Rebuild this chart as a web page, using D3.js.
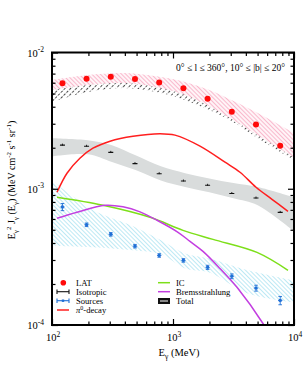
<!DOCTYPE html>
<html><head><meta charset="utf-8">
<script src="https://cdn.jsdelivr.net/npm/d3@7"></script>
<style>
html,body{margin:0;padding:0;background:#fff;}
svg{display:block;font-family:"Liberation Serif","DejaVu Serif",serif;}
</style></head>
<body><svg id="c" width="305" height="365"></svg>
<script>
// ---------------- data ----------------
const binE = [122, 193, 306, 485, 769, 1219, 1932, 3062, 4853, 7691];
const latFlux = [5.94e-3, 6.42e-3, 6.64e-3, 6.38e-3, 6.02e-3, 5.46e-3, 4.57e-3, 3.67e-3, 2.96e-3, 2.07e-3];
const isoFlux = [2.09e-3, 2.05e-3, 1.85e-3, 1.53e-3, 1.29e-3, 1.14e-3, 1.06e-3, 9.23e-4, 8.55e-4, 6.71e-4];
const srcFlux = [7.35e-4, 5.44e-4, 4.63e-4, 3.79e-4, 3.24e-4, 2.98e-4, 2.65e-4, 2.28e-4, 1.865e-4, 1.514e-4];
const srcErr  = [0.06, 0.03, 0.03, 0.03, 0.03, 0.03, 0.035, 0.04, 0.05, 0.07];

const bandE = [100, 198, 396, 794, 1259, 1995, 3162, 5012, 10000];
const latLo = [5.30e-3, 5.77e-3, 5.97e-3, 5.48e-3, 4.87e-3, 4.04e-3, 3.19e-3, 2.47e-3, 1.70e-3];
const latHi = [6.28e-3, 6.83e-3, 7.07e-3, 6.61e-3, 6.07e-3, 5.30e-3, 4.40e-3, 3.59e-3, 2.56e-3];
const totLo = [4.33e-3, 5.12e-3, 5.48e-3, 5.04e-3, 4.47e-3, 3.78e-3, 3.08e-3, 2.35e-3, 1.62e-3];
const totHi = [5.97e-3, 6.38e-3, 6.49e-3, 6.17e-3, 5.67e-3, 4.87e-3, 4.11e-3, 3.35e-3, 2.39e-3];

const isoBandE  = [100, 198, 313, 490, 794, 1259, 1995, 3162, 5012, 10000];
const isoBandLo = [1.73e-3, 1.79e-3, 1.57e-3, 1.37e-3, 1.15e-3, 1.03e-3, 9.42e-4, 8.51e-4, 7.56e-4, 4.86e-4];
const isoBandHi = [2.35e-3, 2.27e-3, 2.09e-3, 1.76e-3, 1.46e-3, 1.30e-3, 1.19e-3, 1.10e-3, 1.03e-3, 8.65e-4];

const srcBandE  = [100, 141, 219, 468, 794, 1259, 1995, 4169, 10000];
const srcBandLo = [3.84e-4, 3.78e-4, 3.72e-4, 3.53e-4, 3.30e-4, 2.60e-4, 2.43e-4, 1.70e-4, 1.46e-4];
const srcBandHi = [1.155e-3, 9.11e-4, 6.95e-4, 5.30e-4, 4.18e-4, 3.35e-4, 3.08e-4, 2.52e-4, 2.12e-4];

const pi0E = [110, 133, 170, 218, 302, 467, 781, 1039, 1672, 2690, 3579, 4853, 6577, 8920];
const pi0F = [9.42e-4, 1.30e-3, 1.676e-3, 1.985e-3, 2.235e-3, 2.43e-3, 2.537e-3, 2.474e-3, 2.054e-3, 1.566e-3, 1.322e-3, 1.026e-3, 8.37e-4, 6.83e-4];

const icE = [110, 264, 646, 1209, 2141, 4945, 8920];
const icF = [8.66e-4, 7.56e-4, 6.17e-4, 4.95e-4, 4.25e-4, 3.41e-4, 2.52e-4];

const brE = [110, 161, 274, 386, 534, 738, 1100, 1382, 1770, 2445, 3380, 5543, 6310];
const brF = [6.07e-4, 6.72e-4, 7.56e-4, 7.37e-4, 6.77e-4, 5.87e-4, 4.79e-4, 4.11e-4, 3.47e-4, 2.60e-4, 1.89e-4, 1.026e-4, 8.4e-5];

const xMajor = [100, 1000, 10000];
const yMajor = [1e-4, 1e-3, 1e-2];
const xLabels = ["2", "3", "4"];
const yLabels = ["-4", "-3", "-2"];
const titleText = "0° ≤ l ≤ 360°, 10° ≤ |b| ≤ 20°";

// ---------------- layout ----------------
const L = 52, R = 294, T = 52.5, B = 325;
const x = d3.scaleLog().domain([100, 10000]).range([L, R]);
const y = d3.scaleLog().domain([1e-4, 1e-2]).range([B, T]);

const svg = d3.select("#c");
const defs = svg.append("defs");
defs.append("clipPath").attr("id", "clip").append("rect")
  .attr("x", L).attr("y", T).attr("width", R - L).attr("height", B - T);

function hatch(id, color, angle, bg, dash, sw, w) {
  const p = defs.append("pattern").attr("id", id).attr("patternUnits", "userSpaceOnUse")
    .attr("width", w).attr("height", w).attr("patternTransform", "rotate(" + angle + ")");
  if (bg) p.append("rect").attr("width", w).attr("height", w).attr("fill", bg);
  const ln = p.append("line").attr("x1", 0.5).attr("y1", 0).attr("x2", 0.5).attr("y2", w)
    .attr("stroke", color).attr("stroke-width", sw);
  if (dash) ln.attr("stroke-dasharray", dash);
}
hatch("hBlack", "#333", 45, null, "2.5,1.5", 0.9, 4);
hatch("hPink", "#f8b2c8", -45, "#fff4f7", null, 0.9, 3);
hatch("hCyan", "#b5e7f3", -45, null, null, 0.9, 3);

const g = svg.append("g").attr("clip-path", "url(#clip)");

function band(E, lo, hi, fill) {
  const a = d3.area().x((d, i) => x(E[i])).y0((d, i) => y(lo[i])).y1((d, i) => y(hi[i]))
    .curve(d3.curveCatmullRom);
  return g.append("path").attr("d", a(E)).attr("fill", fill);
}
function line(E, F, color) {
  const l = d3.line().x((d, i) => x(E[i])).y((d, i) => y(F[i])).curve(d3.curveCatmullRom);
  g.append("path").attr("d", l(E)).attr("fill", "none").attr("stroke", color)
    .attr("stroke-width", 1.5);
}

band(bandE, totLo, totHi, "url(#hBlack)");
band(bandE, latLo, latHi, "url(#hPink)");
band(isoBandE, isoBandLo, isoBandHi, "#d9dcdc");
band(srcBandE, srcBandLo, srcBandHi, "url(#hCyan)");

line(pi0E, pi0F, "#ff1f1f");
line(icE, icF, "#7ddf1a");
line(brE, brF, "#c33fe0");

// isotropic points
binE.forEach((e, i) => {
  const cx = x(e), cy = y(isoFlux[i]);
  g.append("line").attr("x1", cx - 2.5).attr("x2", cx + 2.5).attr("y1", cy).attr("y2", cy)
    .attr("stroke", "#111").attr("stroke-width", 1.1);
  g.append("line").attr("x1", cx).attr("x2", cx).attr("y1", cy - 1.5).attr("y2", cy + 0.5)
    .attr("stroke", "#111").attr("stroke-width", 0.9);
});
// sources points
const blue = "#1f6fd6";
binE.forEach((e, i) => {
  const cx = x(e), cy = y(srcFlux[i]);
  const y1 = y(srcFlux[i] * (1 + srcErr[i])), y2 = y(srcFlux[i] * (1 - srcErr[i]));
  g.append("line").attr("x1", cx).attr("x2", cx).attr("y1", y1).attr("y2", y2)
    .attr("stroke", blue).attr("stroke-width", 0.9);
  [y1, y2].forEach(yy => g.append("line").attr("x1", cx - 1.8).attr("x2", cx + 1.8)
    .attr("y1", yy).attr("y2", yy).attr("stroke", blue).attr("stroke-width", 0.9));
  g.append("line").attr("x1", cx - 2.2).attr("x2", cx + 2.2).attr("y1", cy).attr("y2", cy)
    .attr("stroke", blue).attr("stroke-width", 0.9);
  g.append("rect").attr("x", cx - 1.4).attr("y", cy - 1.4).attr("width", 2.8).attr("height", 2.8)
    .attr("fill", blue);
});
// LAT points
binE.forEach((e, i) => {
  g.append("circle").attr("cx", x(e)).attr("cy", y(latFlux[i])).attr("r", 3)
    .attr("fill", "#ff0a0a");
});

// ---------------- axes ----------------
function minors(lo, hi) {
  const out = [];
  for (let d = lo; d < hi; d *= 10) for (let k = 2; k <= 9; k++) out.push(d * k);
  return out;
}
const ax = svg.append("g");
function drawAxis(gen, ticks, size, tr) {
  const a = ax.append("g").attr("transform", tr)
    .call(gen.tickValues(ticks).tickSize(size).tickFormat(""));
  a.select(".domain").remove();
  a.selectAll(".tick line").attr("stroke", "#000").attr("stroke-width", 1.2);
}
const xm = minors(100, 10000), ym = minors(1e-4, 1e-2);
drawAxis(d3.axisBottom(x), xMajor, -6, `translate(0,${B})`);
drawAxis(d3.axisBottom(x), xm, -3.5, `translate(0,${B})`);
drawAxis(d3.axisTop(x), xMajor, -6, `translate(0,${T})`);
drawAxis(d3.axisTop(x), xm, -3.5, `translate(0,${T})`);
drawAxis(d3.axisLeft(y), yMajor, -6, `translate(${L},0)`);
drawAxis(d3.axisLeft(y), ym, -3.5, `translate(${L},0)`);
drawAxis(d3.axisRight(y), yMajor, -6, `translate(${R},0)`);
drawAxis(d3.axisRight(y), ym, -3.5, `translate(${R},0)`);
ax.append("rect").attr("x", L).attr("y", T).attr("width", R - L).attr("height", B - T)
  .attr("fill", "none").attr("stroke", "#000").attr("stroke-width", 2);

// tick labels
xMajor.forEach((v, i) => {
  const t = ax.append("text").attr("x", x(v) + 1).attr("y", 341).attr("text-anchor", "middle")
    .attr("font-size", 10.5);
  t.append("tspan").text("10");
  t.append("tspan").attr("dy", -4.5).attr("font-size", 7.5).text(xLabels[i]);
});
yMajor.forEach((v, i) => {
  const t = ax.append("text").attr("x", 44).attr("y", y(v) + 4).attr("text-anchor", "end")
    .attr("font-size", 10.5);
  t.append("tspan").text("10");
  t.append("tspan").attr("dy", -4.5).attr("font-size", 7.5).text(yLabels[i]);
});

// axis titles
const xt = ax.append("text").attr("x", 179).attr("y", 356).attr("text-anchor", "middle")
  .attr("font-size", 10.5);
xt.append("tspan").text("E");
xt.append("tspan").attr("dy", 2.5).attr("font-size", 7.5).text("γ");
xt.append("tspan").attr("dy", -2.5).text(" (MeV)");

const yt = ax.append("text").attr("transform", "translate(15,180) rotate(-90)")
  .attr("text-anchor", "middle").attr("font-size", 10);
function sp(parent, txt, dy, fs) {
  const s = parent.append("tspan").text(txt);
  if (dy) s.attr("dy", dy);
  if (fs) s.attr("font-size", fs);
  return s;
}
sp(yt, "E"); sp(yt, "γ", 2.5, 7); sp(yt, "2", -7, 7); sp(yt, " J", 4.5);
sp(yt, "γ", 2.5, 7); sp(yt, " (E", -2.5); sp(yt, "γ", 2.5, 7); sp(yt, ") (MeV cm", -2.5);
sp(yt, "-2", -4, 7); sp(yt, " s", 4); sp(yt, "-1", -4, 7); sp(yt, " sr", 4);
sp(yt, "-1", -4, 7); sp(yt, ")", 4);

// title
ax.append("text").attr("x", 285).attr("y", 71).attr("text-anchor", "end")
  .attr("font-size", 9.5).text(titleText);

// ---------------- legend ----------------
const lg = svg.append("g").attr("font-size", 8.6);
const lx = 57, lt = 76;
lg.append("circle").attr("cx", 63.3).attr("cy", 282.7).attr("r", 2.8).attr("fill", "#ff0a0a");
lg.append("text").attr("x", lt).attr("y", 285.5).text("LAT");
function capBar(yy, color, withSq) {
  lg.append("line").attr("x1", lx).attr("x2", lx + 12).attr("y1", yy).attr("y2", yy)
    .attr("stroke", color).attr("stroke-width", 1.1);
  [lx, lx + 12].forEach(xx => lg.append("line").attr("x1", xx).attr("x2", xx)
    .attr("y1", yy - 2.2).attr("y2", yy + 2.2).attr("stroke", color).attr("stroke-width", 1.1));
  if (withSq) lg.append("rect").attr("x", lx + 4.8).attr("y", yy - 1.2).attr("width", 2.4)
    .attr("height", 2.4).attr("fill", color);
}
capBar(291.7, "#111", false);
lg.append("text").attr("x", lt).attr("y", 294.5).text("Isotropic");
capBar(300.7, blue, true);
lg.append("text").attr("x", lt).attr("y", 303.5).text("Sources");
lg.append("line").attr("x1", lx).attr("x2", lx + 12).attr("y1", 310).attr("y2", 310)
  .attr("stroke", "#ff1f1f").attr("stroke-width", 1.5);
const pt = lg.append("text").attr("x", lt).attr("y", 313);
pt.append("tspan").attr("font-style", "italic").text("π");
pt.append("tspan").attr("dy", -3).attr("font-size", 6).text("0");
pt.append("tspan").attr("dy", 3).text("-decay");

const rx = 158, rt = 176;
lg.append("line").attr("x1", rx).attr("x2", rx + 12).attr("y1", 282.7).attr("y2", 282.7)
  .attr("stroke", "#7ddf1a").attr("stroke-width", 1.5);
lg.append("text").attr("x", rt).attr("y", 285.5).text("IC");
lg.append("line").attr("x1", rx).attr("x2", rx + 12).attr("y1", 291.7).attr("y2", 291.7)
  .attr("stroke", "#c33fe0").attr("stroke-width", 1.5);
lg.append("text").attr("x", rt).attr("y", 294.5).text("Bremsstrahlung");
lg.append("rect").attr("x", rx).attr("y", 298).attr("width", 12).attr("height", 6)
  .attr("fill", "#111");
lg.append("line").attr("x1", rx + 2).attr("x2", rx + 10).attr("y1", 301).attr("y2", 301)
  .attr("stroke", "#fff").attr("stroke-width", 1);
lg.append("text").attr("x", rt).attr("y", 303.5).text("Total");
</script></body></html>
